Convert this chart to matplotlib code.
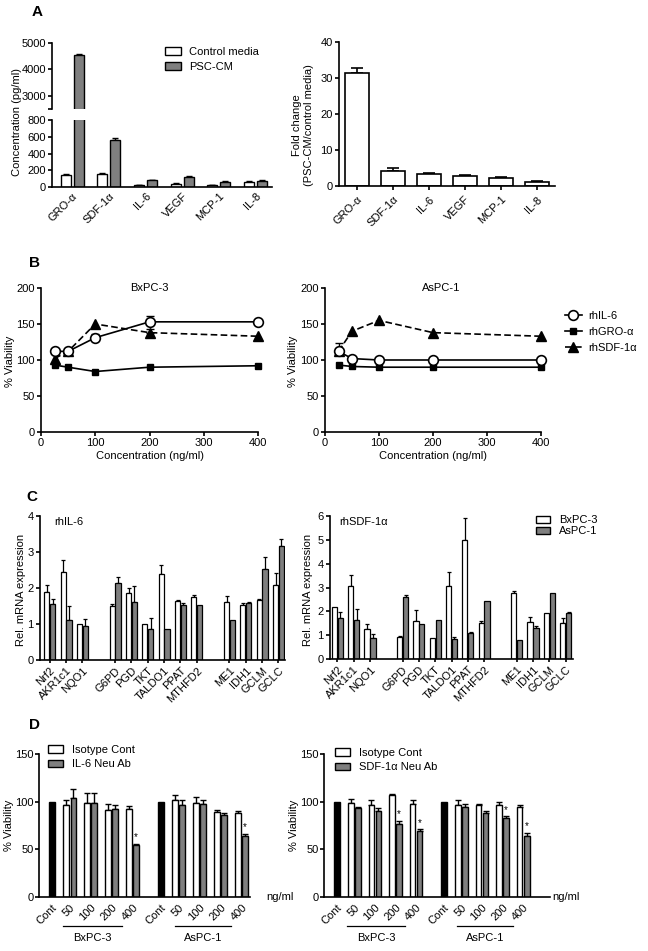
import numpy as np
import matplotlib
matplotlib.use('Agg')
import matplotlib.pyplot as plt
from matplotlib.patches import Patch
from matplotlib.lines import Line2D
import matplotlib.transforms as mtrans

plt.rcParams['font.family'] = ['Liberation Sans', 'DejaVu Sans']
plt.rcParams['font.size'] = 8
plt.rcParams['axes.linewidth'] = 1.2

# ---------------- data ----------------
# Panel A
cytokines = ['GRO-α', 'SDF-1α', 'IL-6', 'VEGF', 'MCP-1', 'IL-8']
conc_control = [145, 155, 20, 40, 25, 65]
conc_control_err = [10, 10, 3, 4, 3, 4]
conc_psc = [4550, 560, 80, 120, 65, 75]
conc_psc_err = [30, 20, 8, 8, 5, 5]
fold_change = [31.3, 4.3, 3.2, 2.9, 2.3, 1.2]
fold_change_err = [1.5, 0.7, 0.5, 0.15, 0.2, 0.1]

# Panel B
doses = [25, 50, 100, 200, 400]
bx_il6 = [112, 112, 131, 153, 153]
bx_il6_err = [0, 0, 5, 8, 0]
bx_gro = [93, 90, 84, 90, 92]
bx_gro_err = [0, 0, 0, 0, 0]
bx_sdf = [102, 112, 150, 138, 133]
bx_sdf_err = [0, 0, 0, 5, 0]
as_il6 = [112, 102, 100, 100, 100]
as_il6_err = [11, 0, 0, 0, 0]
as_gro = [93, 91, 90, 90, 90]
as_gro_err = [0, 0, 0, 0, 0]
as_sdf = [112, 140, 155, 138, 133]
as_sdf_err = [0, 0, 0, 0, 0]

# Panel C
genes = ['Nrf2', 'AKR1c1', 'NQO1', 'G6PD', 'PGD', 'TKT', 'TALDO1', 'PPAT',
         'MTHFD2', 'ME1', 'IDH1', 'GCLM', 'GCLC']
gene_groups = [3, 6, 4]
il6_bx = [1.9, 2.45, 1.0, 1.5, 1.85, 1.0, 2.4, 1.63, 1.75, 1.6, 1.52, 1.67, 2.07]
il6_bx_err = [0.18, 0.33, 0.0, 0.05, 0.15, 0.0, 0.25, 0.05, 0.05, 0.18, 0.05, 0.03, 0.35]
il6_as = [1.55, 1.1, 0.95, 2.13, 1.6, 0.87, 0.87, 1.52, 1.53, 1.1, 1.57, 2.52, 3.17]
il6_as_err = [0.15, 0.4, 0.2, 0.17, 0.45, 0.31, 0.0, 0.05, 0.0, 0.0, 0.03, 0.33, 0.18]
sdf_bx = [2.2, 3.05, 1.27, 0.93, 1.6, 0.9, 3.08, 4.98, 1.5, 2.75, 1.57, 1.93, 1.5]
sdf_bx_err = [0.0, 0.48, 0.18, 0.04, 0.45, 0.0, 0.58, 0.95, 0.1, 0.12, 0.18, 0.0, 0.2]
sdf_as = [1.72, 1.63, 0.9, 2.6, 1.47, 1.62, 0.85, 1.1, 2.42, 0.8, 1.28, 2.78, 1.92]
sdf_as_err = [0.27, 0.45, 0.15, 0.1, 0.0, 0.0, 0.08, 0.05, 0.0, 0.0, 0.12, 0.0, 0.05]

# Panel D
d_labels = ['Cont', '50', '100', '200', '400', 'Cont', '50', '100', '200', '400']
il6_iso = [100, 97, 99, 91.5, 92, 100, 102, 98.5, 89, 88]
il6_iso_err = [0, 5, 10, 6, 3.5, 0, 4.5, 6, 2.5, 2]
il6_neu = [None, 104, 99, 92, 55, None, 97, 98, 85.5, 64]
il6_neu_err = [0, 9.5, 10, 4, 1, 0, 5, 4, 3, 2.5]
il6_sig = [False, False, False, False, True, False, False, False, False, True]
sdf_iso = [100, 99, 96.5, 106.5, 98, 100, 97, 96, 96, 94]
sdf_iso_err = [0, 4, 5, 2, 3.5, 0, 5, 2, 3.5, 2]
sdf_neu = [None, 93, 90, 77, 69.5, None, 94, 88, 82.5, 64.5]
sdf_neu_err = [0, 1, 3, 3, 1.5, 0, 3.5, 2, 2, 3]
sdf_sig = [False, False, False, True, True, False, False, False, True, True]

# ---------------- layout helpers ----------------
W, H = 648, 951
fig = plt.figure(figsize=(W / 100, H / 100), dpi=100)
GRAY = '#7f7f7f'


def rect(x0, y0, x1, y1):
    return [x0 / W, 1 - y1 / H, (x1 - x0) / W, (y1 - y0) / H]


def style(ax):
    for s in ['top', 'right']:
        ax.spines[s].set_visible(False)
    ax.tick_params(direction='out', length=3, width=1.2, labelsize=8, pad=1.5)


def upbars(ax, x, y, err, cap=2.5, lw=1.0):
    x = np.asarray(x, float)
    y = np.asarray([np.nan if v is None else v for v in y], float)
    err = np.asarray(err, float)
    m = (err > 0) & ~np.isnan(y)
    if m.any():
        ax.errorbar(x[m], y[m], yerr=[np.zeros(m.sum()), err[m]], fmt='none',
                    ecolor='k', elinewidth=lw, capsize=cap, capthick=lw, zorder=1)


def fx(px):
    return px / W


def fy(py):
    return 1 - py / H


# ---------------- Panel A left (broken axis) ----------------
xa = np.arange(len(cytokines))
ax_up = fig.add_axes(rect(52, 43, 272, 109))
ax_lo = fig.add_axes(rect(52, 120, 272, 187))
for ax in (ax_up, ax_lo):
    style(ax)
    ax.bar(xa - 0.18, conc_control, 0.27, color='white', edgecolor='k', lw=1, zorder=2)
    ax.bar(xa + 0.18, conc_psc, 0.27, color=GRAY, edgecolor='k', lw=1, zorder=2)
    upbars(ax, xa - 0.18, conc_control, conc_control_err, cap=2)
    upbars(ax, xa + 0.18, conc_psc, conc_psc_err, cap=2)
    ax.set_xlim(-0.55, 5.45)
ax_up.set_ylim(2500, 5000)
ax_up.set_yticks([2500, 3000, 4000, 5000])
ax_up.set_yticklabels(['', '3000', '4000', '5000'])
ax_up.spines['bottom'].set_visible(False)
ax_up.tick_params(axis='x', bottom=False, labelbottom=False)
ax_lo.set_ylim(0, 800)
ax_lo.set_yticks([0, 200, 400, 600, 800])
ax_lo.set_xticks(xa)
ax_lo.set_xticklabels(cytokines, rotation=45, ha='right', rotation_mode='anchor')
ax_lo.tick_params(axis='x', length=0, pad=3)
fig.text(fx(17), fy(122), 'Concentration (pg/ml)', rotation=90, ha='center', va='center', fontsize=8)
fig.legend(handles=[Patch(facecolor='white', edgecolor='k', lw=1, label='Control media'),
                    Patch(facecolor=GRAY, edgecolor='k', lw=1, label='PSC-CM')],
           loc='upper left', bbox_to_anchor=(fx(165), fy(47)), frameon=False,
           handlelength=1.4, handleheight=0.75, handletextpad=0.8, labelspacing=0.45,
           borderpad=0, borderaxespad=0, fontsize=8)

# ---------------- Panel A right ----------------
ax = fig.add_axes(rect(339, 42, 555, 186))
style(ax)
ax.bar(xa, fold_change, 0.69, color='white', edgecolor='k', lw=1.2, zorder=2)
upbars(ax, xa, fold_change, fold_change_err, cap=4, lw=1.2)
ax.set_xlim(-0.5, 5.5)
ax.set_ylim(0, 40)
ax.set_yticks([0, 10, 20, 30, 40])
ax.set_xticks(xa)
ax.set_xticklabels(cytokines, rotation=45, ha='right', rotation_mode='anchor')
ax.tick_params(axis='x', length=3, pad=3)
fig.text(fx(303), fy(125), 'Fold change\n(PSC-CM/control media)', rotation=90,
         ha='center', va='center', multialignment='center', fontsize=8)

# ---------------- Panel B ----------------
def panel_b(r, title, il6, il6e, gro, groe, sdf, sdfe, ylab_x, title_x):
    ax = fig.add_axes(rect(*r))
    style(ax)
    ax.plot(doses, gro, '-s', color='k', lw=1.2, ms=5, mfc='k', zorder=3, clip_on=False)
    ax.plot(doses, sdf, '--^', color='k', lw=1.2, ms=7, mfc='k', dashes=(4, 2), zorder=3, clip_on=False)
    ax.plot(doses, il6, '-o', color='k', lw=1.2, ms=7, mfc='white', mew=1.2, zorder=4, clip_on=False)
    upbars(ax, doses, il6, il6e, cap=3)
    upbars(ax, doses, sdf, sdfe, cap=3)
    upbars(ax, doses, gro, groe, cap=3)
    ax.set_xlim(0, 400)
    ax.set_ylim(0, 200)
    ax.set_xticks([0, 100, 200, 300, 400])
    ax.set_yticks([0, 50, 100, 150, 200])
    ax.set_xlabel('Concentration (ng/ml)', fontsize=8, labelpad=2)
    ax.text(title_x, 1.0, title, transform=ax.transAxes, ha='center', va='center', fontsize=8)
    fig.text(fx(ylab_x), fy(361), '% Viability', rotation=90, ha='center', va='center', fontsize=8)
    return ax


panel_b((41, 288, 258, 432), 'BxPC-3', bx_il6, bx_il6_err, bx_gro, bx_gro_err, bx_sdf, bx_sdf_err, 10, 0.5)
panel_b((325, 288, 541, 432), 'AsPC-1', as_il6, as_il6_err, as_gro, as_gro_err, as_sdf, as_sdf_err, 293, 0.54)
fig.legend(handles=[Line2D([], [], color='k', lw=1.2, marker='o', ms=7, mfc='white', mew=1.2, label='rhIL-6'),
                    Line2D([], [], color='k', lw=1.2, marker='s', ms=5, mfc='k', label='rhGRO-α'),
                    Line2D([], [], color='k', lw=1.2, marker='^', ms=7, mfc='k', ls=(0, (4, 2)), label='rhSDF-1α')],
           loc='upper left', bbox_to_anchor=(fx(565), fy(311)), frameon=False,
           handlelength=1.5, handletextpad=0.6, labelspacing=0.55,
           borderpad=0, borderaxespad=0, fontsize=8)

# ---------------- Panel C ----------------
xc = []
pos = 0
for gi, n in enumerate(gene_groups):
    for k in range(n):
        xc.append(pos)
        pos += 1
    pos += 1
xc = np.array(xc, float)


def panel_c(r, bx, bxe, asv, ase, ymax, xlim, label, lab_x):
    ax = fig.add_axes(rect(*r))
    style(ax)
    ax.bar(xc - 0.18, bx, 0.32, color='white', edgecolor='k', lw=0.9, zorder=2)
    ax.bar(xc + 0.18, asv, 0.32, color=GRAY, edgecolor='k', lw=0.9, zorder=2)
    upbars(ax, xc - 0.18, bx, bxe, cap=1.5, lw=0.9)
    upbars(ax, xc + 0.18, asv, ase, cap=1.5, lw=0.9)
    ax.set_xlim(*xlim)
    ax.set_ylim(0, ymax)
    ax.set_yticks(range(0, ymax + 1))
    ax.set_xticks(xc)
    ax.set_xticklabels(genes, rotation=45, ha='right', rotation_mode='anchor')
    ax.tick_params(axis='x', length=2, pad=2)
    ax.text(0.06 if ymax == 4 else 0.04, 0.99, label, transform=ax.transAxes, ha='left', va='top', fontsize=8)
    fig.text(fx(lab_x), fy(590), 'Rel. mRNA expression', rotation=90, ha='center', va='center', fontsize=8)
    return ax


panel_c((40, 516, 285, 660), il6_bx, il6_bx_err, il6_as, il6_as_err, 4, (-0.6, 14.4), 'rhIL-6', 21)
panel_c((330, 516, 573, 659), sdf_bx, sdf_bx_err, sdf_as, sdf_as_err, 6, (-0.45, 14.45), 'rhSDF-1α', 308)
fig.legend(handles=[Patch(facecolor='white', edgecolor='k', lw=1, label='BxPC-3'),
                    Patch(facecolor=GRAY, edgecolor='k', lw=1, label='AsPC-1')],
           loc='upper left', bbox_to_anchor=(fx(536), fy(515)), frameon=False,
           handlelength=1.3, handleheight=0.6, handletextpad=0.8, labelspacing=0.1,
           borderpad=0, borderaxespad=0, fontsize=8)

# ---------------- Panel D ----------------
xd = np.array([0, 0.85, 1.85, 2.85, 3.85, 5.2, 6.05, 7.05, 8.05, 9.05])


def panel_d(r, iso, isoe, neu, neue, sig, xlim, leg2, lab_x, leg_xy, ngml_x):
    ax = fig.add_axes(rect(*r))
    style(ax)
    ax.tick_params(axis='y', pad=1)
    cont = [i for i, l in enumerate(d_labels) if l == 'Cont']
    trt = [i for i, l in enumerate(d_labels) if l != 'Cont']
    ax.bar(xd[cont], [iso[i] for i in cont], 0.27, color='k', edgecolor='k', lw=1, zorder=2)
    xi = xd[trt] - 0.17
    xn = xd[trt] + 0.17
    ax.bar(xi, [iso[i] for i in trt], 0.27, color='white', edgecolor='k', lw=1, zorder=2)
    ax.bar(xn, [neu[i] for i in trt], 0.27, color=GRAY, edgecolor='k', lw=1, zorder=2)
    upbars(ax, xi, [iso[i] for i in trt], [isoe[i] for i in trt], cap=2)
    upbars(ax, xn, [neu[i] for i in trt], [neue[i] for i in trt], cap=2)
    for k, i in enumerate(trt):
        if sig[i]:
            ax.text(xn[k], neu[i] + neue[i] + 1.5, '*', ha='center', va='bottom', fontsize=7)
    ax.set_xlim(*xlim)
    ax.set_ylim(0, 150)
    ax.set_yticks([0, 50, 100, 150])
    ax.set_xticks(xd)
    ax.set_xticklabels(d_labels, rotation=45, ha='right', rotation_mode='anchor')
    ax.tick_params(axis='x', length=0, pad=4)
    fig.text(fx(lab_x), fy(825), '% Viability', rotation=90, ha='center', va='center', fontsize=8)
    fig.text(fx(ngml_x), fy(897), 'ng/ml', ha='left', va='center', fontsize=8)
    tr = mtrans.blended_transform_factory(ax.transData, fig.transFigure)
    for (a, b, name) in [(0.52, 3.33, 'BxPC-3'), (5.86, 8.55, 'AsPC-1')]:
        fig.add_artist(Line2D([a, b], [fy(926), fy(926)], transform=tr, color='k', lw=0.9))
        fig.text((a + b) / 2, fy(938), name, transform=tr, ha='center', va='center', fontsize=8)
    fig.legend(handles=[Patch(facecolor='white', edgecolor='k', lw=1, label='Isotype Cont'),
                        Patch(facecolor=GRAY, edgecolor='k', lw=1, label=leg2)],
               loc='upper left', bbox_to_anchor=leg_xy, frameon=False,
               handlelength=1.35, handleheight=0.7, handletextpad=0.8, labelspacing=0.4,
               borderpad=0, borderaxespad=0, fontsize=8)
    return ax


panel_d((39, 754, 250, 897), il6_iso, il6_iso_err, il6_neu, il6_neu_err, il6_sig,
        (-0.62, 9.45), 'IL-6 Neu Ab', 9, (fx(48), fy(745)), 266)
panel_d((324, 754, 550, 897), sdf_iso, sdf_iso_err, sdf_neu, sdf_neu_err, sdf_sig,
        (-0.62, 10.35), 'SDF-1α Neu Ab', 294, (fx(335), fy(748)), 552)

# ---------------- Panel letters ----------------
for letter, (x, y) in {'A': (37, 12), 'B': (34, 263), 'C': (32, 497), 'D': (34, 725)}.items():
    fig.text(fx(x), fy(y), letter, ha='center', va='center', fontsize=11, fontweight='bold')

fig.savefig('out.png', dpi=100)
